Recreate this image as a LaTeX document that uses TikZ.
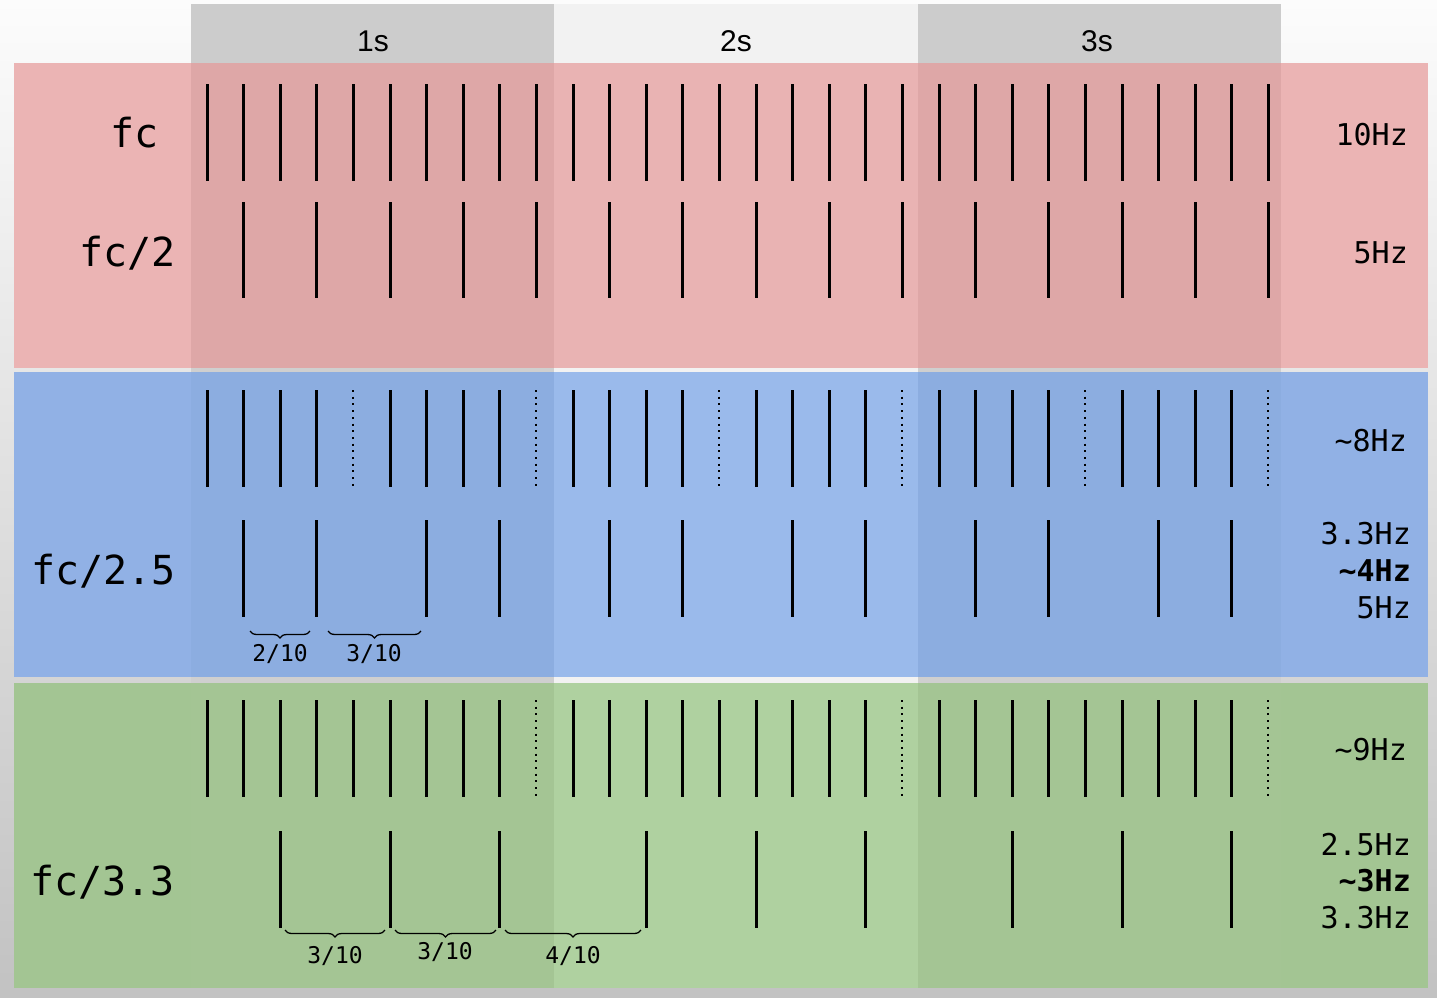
\documentclass[tikz,border=0pt]{standalone}
\usepackage{fontspec}
\setmainfont{Liberation Sans}
\newfontfamily\monof{DejaVu Sans Mono}
\usetikzlibrary{decorations.pathreplacing}
\definecolor{bgtop}{HTML}{FCFCFC}
\definecolor{bgbot}{HTML}{C2C2C2}
\definecolor{hdark}{HTML}{CCCCCC}
\definecolor{hlight}{HTML}{F2F2F2}
\definecolor{gapdark}{HTML}{CFCFCF}
\definecolor{redout}{HTML}{EBB4B4}
\definecolor{reddk}{HTML}{DEA7A7}
\definecolor{redlt}{HTML}{E9B3B3}
\definecolor{bluout}{HTML}{91B1E5}
\definecolor{bludk}{HTML}{8CADE0}
\definecolor{blult}{HTML}{9ABAEB}
\definecolor{grnout}{HTML}{A3C593}
\definecolor{grndk}{HTML}{A4C594}
\definecolor{grnlt}{HTML}{AFD1A0}
\begin{document}
\begin{tikzpicture}[x=1pt,y=-1pt,
  pulse/.style={line width=3pt},
  ghost/.style={line width=2pt, dash pattern=on 2pt off 4.7pt},
  brc/.style={decorate, decoration={brace, amplitude=7pt}, line width=1.3pt},
  hdr/.style={font=\fontsize{30}{30}\selectfont, anchor=base, inner sep=0pt},
  lbl/.style={font=\monof\fontsize{40}{40}\selectfont, anchor=base east, inner sep=0pt},
  rlbl/.style={font=\monof\fontsize{30}{30}\selectfont, anchor=base east, inner sep=0pt},
  blbl/.style={font=\monof\fontsize{23}{23}\selectfont, anchor=base, inner sep=0pt}]
\useasboundingbox (0,0) rectangle (1437,998);
\shade[top color=bgtop, bottom color=bgbot] (0,0) rectangle (1437,998);
% header
\fill[hdark] (191,4) rectangle (554,63);
\fill[hlight] (554,4) rectangle (918,63);
\fill[hdark] (918,4) rectangle (1281,63);
% gaps
\foreach \ya/\yb in {368/372, 677/683} {
  \fill[gapdark] (191,\ya) rectangle (554,\yb);
  \fill[hlight] (554,\ya) rectangle (918,\yb);
  \fill[gapdark] (918,\ya) rectangle (1281,\yb);
}
% bands
\foreach \ya/\yb/\co/\cd/\cl in {63/368/redout/reddk/redlt, 372/677/bluout/bludk/blult, 683/988/grnout/grndk/grnlt} {
  \fill[\co] (14,\ya) rectangle (1428,\yb);
  \fill[\cd] (191,\ya) rectangle (554,\yb);
  \fill[\cl] (554,\ya) rectangle (918,\yb);
  \fill[\cd] (918,\ya) rectangle (1281,\yb);
}
% header labels
\node[hdr] (h1) at (373,52) {1s};
\node[hdr] (h2) at (736,52) {2s};
\node[hdr] (h3) at (1097,52) {3s};
% fc
\foreach \k in {0,...,29} \draw[pulse] ({207+36.6*\k},84) -- ({207+36.6*\k},181);
% fc/2
\foreach \k in {1,3,...,29} \draw[pulse] ({207+36.6*\k},202) -- ({207+36.6*\k},298);
% blue top
\foreach \k in {0,...,29} {
  \pgfmathtruncatemacro{\m}{mod(\k,5)}
  \ifnum\m=4
    \draw[ghost] ({207+36.6*\k},390) -- ({207+36.6*\k},487);
  \else
    \draw[pulse] ({207+36.6*\k},390) -- ({207+36.6*\k},487);
  \fi
}
% blue bottom
\foreach \k in {1,3,6,8,11,13,16,18,21,23,26,28} \draw[pulse] ({207+36.6*\k},520) -- ({207+36.6*\k},617);
% green top
\foreach \k in {0,...,29} {
  \pgfmathtruncatemacro{\m}{mod(\k,10)}
  \ifnum\m=9
    \draw[ghost] ({207+36.6*\k},700) -- ({207+36.6*\k},797);
  \else
    \draw[pulse] ({207+36.6*\k},700) -- ({207+36.6*\k},797);
  \fi
}
% green bottom
\foreach \k in {2,5,8,12,15,18,22,25,28} \draw[pulse] ({207+36.6*\k},831) -- ({207+36.6*\k},928);
% braces blue
\coordinate (b1a) at (250,631); \coordinate (b1b) at (310,631);
\coordinate (b2a) at (328,631); \coordinate (b2b) at (421,631);
\draw[brc] (b1b) -- (b1a);
\draw[brc] (b2b) -- (b2a);
\node[blbl] (t1) at (280,661) {2/10};
\node[blbl] (t2) at (374,661) {3/10};
% braces green
\coordinate (g1a) at (285,930); \coordinate (g1b) at (385,930);
\coordinate (g2a) at (395,930); \coordinate (g2b) at (496,930);
\coordinate (g3a) at (505,930); \coordinate (g3b) at (641,930);
\draw[brc] (g1b) -- (g1a);
\draw[brc] (g2b) -- (g2a);
\draw[brc] (g3b) -- (g3a);
\node[blbl] (t3) at (335,963) {3/10};
\node[blbl] (t4) at (445,959) {3/10};
\node[blbl] (t5) at (573,963) {4/10};
% left labels
\node[lbl] (l1) at (159,147) {fc};
\node[lbl] (l2) at (176,266) {fc/2};
\node[lbl] (l3) at (176,584) {fc/2.5};
\node[lbl] (l4) at (175,895) {fc/3.3};
% right labels
\node[rlbl] (r1) at (1408,145) {10Hz};
\node[rlbl] (r2) at (1408,263) {5Hz};
\node[rlbl] (r3) at (1407,451) {\textasciitilde8Hz};
\node[rlbl] (r4) at (1411,544) {3.3Hz};
\node[rlbl] (r5) at (1411,581) {\bfseries\textasciitilde4Hz};
\node[rlbl] (r6) at (1411,618) {5Hz};
\node[rlbl] (r7) at (1407,760) {\textasciitilde9Hz};
\node[rlbl] (r8) at (1411,855) {2.5Hz};
\node[rlbl] (r9) at (1411,891) {\bfseries\textasciitilde3Hz};
\node[rlbl] (r10) at (1411,928) {3.3Hz};
\end{tikzpicture}
\end{document}
